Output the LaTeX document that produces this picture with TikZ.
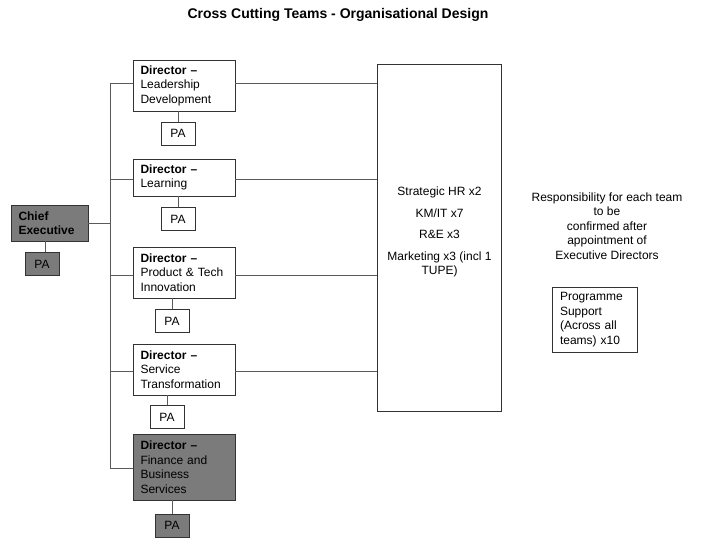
\documentclass[tikz,border=0pt]{standalone}
\usepackage{fontspec}
\setmainfont{Liberation Sans}
\usetikzlibrary{positioning}
\definecolor{boxgray}{HTML}{7B7B7B}
\definecolor{linegray}{HTML}{5A5A5A}

\begin{document}
\begin{tikzpicture}[
        x=1pt, y=-1pt,
        box/.style={
            draw=black!80,
            inner xsep=7.5pt,
            inner ysep=0pt,
            text width=87pt,
            align=left,
            font=\fontsize{12}{14.5}\selectfont
        },
        shaded/.style={fill=boxgray},
        pa/.style={
            draw=black!80,
            minimum width=34pt,
            minimum height=23pt,
            inner sep=0pt,
            font=\fontsize{12}{14.5}\selectfont
        },
        conn/.style={draw=linegray, line width=0.8pt},
        every node/.style={font=\fontsize{12}{14.5}\selectfont}
    ]
        \useasboundingbox (0,0) rectangle (720,540);

        \node[font=\fontsize{14}{16}\selectfont\bfseries] (title) at (338,15) {Cross Cutting Teams - Organisational Design};

        % chief executive
        \node[box, shaded, text width=62pt, minimum height=36pt] (chief) at (49.5,223) {\textbf{Chief}\\\textbf{Executive}};
        \node[pa, shaded] (chiefpa) at (42,264) {PA};

        % directors
        \node[box, minimum height=51pt] (leadership) at (184,85.5) {\textbf{Director –}\\Leadership\\Development};
        \node[pa] (leadershippa) at (178,133.5) {PA};
        \node[box, minimum height=37pt] (learning) at (184,177.5) {\textbf{Director –}\\Learning};
        \node[pa] (learningpa) at (178,219) {PA};
        \node[box, minimum height=51pt] (product) at (184,272.5) {\textbf{Director –}\\Product \& Tech\\Innovation};
        \node[pa] (productpa) at (172,321) {PA};
        \node[box, minimum height=51pt] (service) at (184,369.5) {\textbf{Director –}\\Service\\Transformation};
        \node[pa] (servicepa) at (167,417) {PA};
        \node[box, shaded, minimum height=66pt] (finance) at (184,467) {\textbf{Director –}\\Finance and\\Business\\Services};
        \node[pa, shaded] (financepa) at (172,525.5) {PA};

        % cross cutting team
        \node[draw=black!80, minimum width=124pt, minimum height=347pt] (teams) at (439.5,237.5) {};
        \node[align=center] (teamstext) at (439.5,232) {Strategic HR x2\\[7pt]KM/IT x7\\[7pt]R\&E x3\\[7pt]Marketing x3 (incl 1\\TUPE)};

        \node[align=center] (note) at (607,226) {Responsibility for each team\\to be\\confirmed after\\appointment of\\Executive Directors};
        \node[box, text width=69pt, inner xsep=8pt, minimum height=65pt] (progsupport) at (594.5,319.5) {Programme\\Support\\(Across all\\teams) x10};

        % trunk
        \coordinate (trunktop) at (110,83);
        \coordinate (trunkbottom) at (110,468);
        \draw[conn] (trunktop) -- (trunkbottom);
        \draw[conn] (chief.east) -- (chief.east -| trunktop);

        \draw[conn] (trunktop) -- (trunktop -| leadership.west);
        \draw[conn] (learning.west |- 0,179) -- (trunktop |- 0,179);
        \draw[conn] (product.west |- 0,275) -- (trunktop |- 0,275);
        \draw[conn] (service.west |- 0,371) -- (trunktop |- 0,371);
        \draw[conn] (trunkbottom) -- (trunkbottom -| finance.west);

        \draw[conn] (leadership.east |- trunktop) -- (teams.west |- trunktop);
        \draw[conn] (learning.east |- 0,179) -- (teams.west |- 0,179);
        \draw[conn] (product.east |- 0,275) -- (teams.west |- 0,275);
        \draw[conn] (service.east |- 0,371) -- (teams.west |- 0,371);

        % personal assistants
        \draw[conn] (chiefpa.north -| 45,0) -- (chief.south -| 45,0);
        \draw[conn] (leadershippa) -- (leadership.south -| leadershippa);
        \draw[conn] (learningpa) -- (learning.south -| learningpa);
        \draw[conn] (productpa) -- (product.south -| productpa);
        \draw[conn] (servicepa) -- (service.south -| servicepa);
        \draw[conn] (financepa) -- (finance.south -| financepa);

\end{tikzpicture}
\end{document}
